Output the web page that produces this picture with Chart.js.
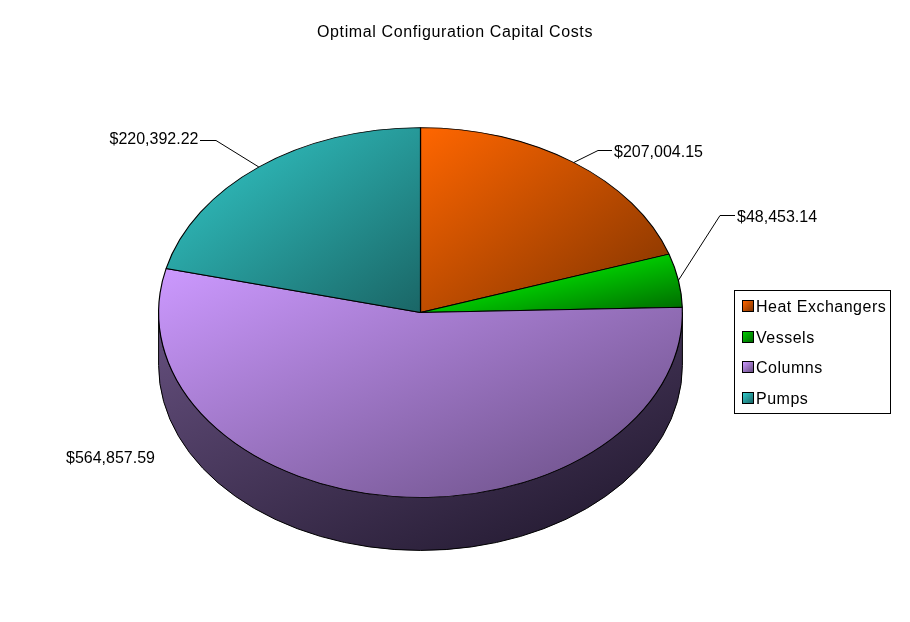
<!DOCTYPE html>
<html>
<head>
<meta charset="utf-8">
<title>Optimal Configuration Capital Costs</title>
<script src="https://cdn.jsdelivr.net/npm/chart.js@4/dist/chart.umd.js"></script>
<style>
  html, body { margin: 0; padding: 0; background: #fff; }
  canvas { display: block; }
</style>
</head>
<body>
<canvas id="costChart" width="910" height="622"></canvas>
<script>
const categories = ['Heat Exchangers', 'Vessels', 'Columns', 'Pumps'];
const costs = [207004.15, 48453.14, 564857.59, 220392.22];
const lightColors = ['#ff6600', '#00cc00', '#cc99ff', '#33cccc'];
const darkColors = ['#7f3300', '#006600', '#664c80', '#1a6666'];
const wallLight = ['#7f3300', '#006600', '#66507f', '#1a6666'];
const wallDark = ['#2a1100', '#002200', '#1c1428', '#082222'];
// where along the slice diagonal the colour starts to fade
const fadeStart = [0, 0.45, 0, 0];

// pie geometry: a flat circle squashed into an ellipse, plus an extruded wall
const PIE_BOX = { left: 158, top: 50, right: 683, bottom: 575 };
const SQUASH = 185 / 262;
const DEPTH = 53;
const FONT = '"Liberation Sans", Arial, sans-serif';

const labelSpots = [
    { knee: [598, 150], end: [612, 150], x: 614, y: 152.5, align: 'left', leader: true },
    { knee: [720, 215], end: [735, 215], x: 737, y: 217.5, align: 'left', leader: true },
    { x: 66, y: 458.5, align: 'left', leader: false },
    { knee: [216, 140], end: [200, 140], x: 198.5, y: 139.5, align: 'right', leader: true }
];
const legendBox = { left: 734.5, top: 290.5, right: 890.5, bottom: 413.5, rows: [306, 337, 367, 398] };

const money = v => '$' + v.toLocaleString('en-US', { minimumFractionDigits: 2, maximumFractionDigits: 2 });

// diagonal gradient with iso lines parallel to the anti-diagonal of the box
function diagonalGradient(ctx, box, from, to, start = 0) {
    const w = box.right - box.left;
    const h = box.bottom - box.top;
    const len = Math.hypot(w, h);
    const nx = h / len, ny = w / len;
    const run = (w * nx + h * ny);
    const g = ctx.createLinearGradient(box.left, box.top, box.left + nx * run, box.top + ny * run);
    g.addColorStop(start, from);
    g.addColorStop(1, to);
    return g;
}

function sliceBox(index, cx, cy, r) {
    const total = costs.reduce((a, b) => a + b, 0);
    let start = -Math.PI / 2;
    for (let i = 0; i < index; i++) start += costs[i] / total * Math.PI * 2;
    const end = start + costs[index] / total * Math.PI * 2;
    const xs = [cx, cx + r * Math.cos(start), cx + r * Math.cos(end)];
    const ys = [cy, cy + r * Math.sin(start), cy + r * Math.sin(end)];
    for (let q = -2; q <= 4; q++) {
        const a = q * Math.PI / 2;
        if (a > start && a < end) {
            xs.push(cx + r * Math.cos(a));
            ys.push(cy + r * Math.sin(a));
        }
    }
    return { left: Math.min(...xs), right: Math.max(...xs), top: Math.min(...ys), bottom: Math.max(...ys) };
}

const pie3d = {
    id: 'pie3d',
    beforeDraw(chart) {
        // wider tracking to match the bitmap font of the original
        chart.ctx.letterSpacing = '0.62px';
    },
    afterLayout(chart) {
        const a = chart.chartArea;
        a.left = PIE_BOX.left;
        a.top = PIE_BOX.top;
        a.right = PIE_BOX.right;
        a.bottom = PIE_BOX.bottom;
        a.width = a.right - a.left;
        a.height = a.bottom - a.top;
    },
    beforeDatasetsDraw(chart) {
        const ctx = chart.ctx;
        ctx.letterSpacing = '0px';
        const arcs = chart.getDatasetMeta(0).data;

        // wall: only the part of each slice facing the viewer
        arcs.forEach((arc, i) => {
            const r = arc.outerRadius, ry = r * SQUASH;
            const a0 = Math.max(arc.startAngle, 0);
            const a1 = Math.min(arc.endAngle, Math.PI);
            if (a1 <= a0) return;
            ctx.save();
            ctx.beginPath();
            ctx.ellipse(arc.x, arc.y, r, ry, 0, a0, a1);
            ctx.ellipse(arc.x, arc.y + DEPTH, r, ry, 0, a1, a0, true);
            ctx.closePath();
            const wallBox = { left: arc.x - r, right: arc.x + r, top: arc.y, bottom: arc.y + ry + DEPTH };
            ctx.fillStyle = diagonalGradient(ctx, wallBox, wallLight[i], wallDark[i]);
            ctx.fill();
            ctx.lineWidth = 1;
            ctx.strokeStyle = '#000';
            ctx.stroke();
            ctx.restore();
        });

        const cy = arcs[0].y;
        ctx.save();
        ctx.translate(0, cy);
        ctx.scale(1, SQUASH);
        ctx.translate(0, -cy);
    },
    afterDatasetsDraw(chart) {
        const ctx = chart.ctx;
        ctx.restore();

        const arcs = chart.getDatasetMeta(0).data;
        ctx.save();
        ctx.strokeStyle = '#000';
        ctx.lineWidth = 1;
        ctx.fillStyle = '#000';
        ctx.font = '16px ' + FONT;
        ctx.textBaseline = 'middle';
        labelSpots.forEach((spot, i) => {
            if (spot.leader) {
                const arc = arcs[i];
                const mid = (arc.startAngle + arc.endAngle) / 2;
                ctx.beginPath();
                ctx.moveTo(arc.x + arc.outerRadius * Math.cos(mid), arc.y + arc.outerRadius * SQUASH * Math.sin(mid));
                ctx.lineTo(spot.knee[0], spot.knee[1] + 0.5);
                ctx.lineTo(spot.end[0], spot.end[1] + 0.5);
                ctx.stroke();
            }
            ctx.textAlign = spot.align;
            ctx.fillText(money(costs[i]), spot.x, spot.y);
        });
        ctx.restore();
        drawLegend(ctx);
    }
};

function drawLegend(ctx) {
    const b = legendBox;
    ctx.save();
    ctx.strokeStyle = '#000';
    ctx.lineWidth = 1;
    ctx.strokeRect(b.left, b.top, b.right - b.left, b.bottom - b.top);
    ctx.font = '16px ' + FONT;
    ctx.letterSpacing = '0.5px';
    ctx.fillStyle = '#000';
    ctx.textBaseline = 'middle';
    ctx.textAlign = 'left';
    categories.forEach((name, i) => {
        const y = b.rows[i];
        const swatch = { left: 743, top: y - 5, right: 753, bottom: y + 5 };
        ctx.fillStyle = diagonalGradient(ctx, swatch, lightColors[i], darkColors[i]);
        ctx.fillRect(743, y - 5, 10, 10);
        ctx.strokeRect(742.5, y - 5.5, 11, 11);
        ctx.fillStyle = '#000';
        ctx.fillText(name, 756, y + 1.5);
    });
    ctx.restore();
}

new Chart(document.getElementById('costChart'), {
    type: 'pie',
    data: {
        labels: categories,
        datasets: [{
            data: costs,
            clip: false,
            borderColor: '#000',
            borderWidth: 1.2,
            backgroundColor: c => {
                const a = c.chart.chartArea;
                if (!a) return lightColors[c.dataIndex];
                const cx = (a.left + a.right) / 2, cy = (a.top + a.bottom) / 2;
                const box = sliceBox(c.dataIndex, cx, cy, a.width / 2);
                return diagonalGradient(c.chart.ctx, box, lightColors[c.dataIndex], darkColors[c.dataIndex], fadeStart[c.dataIndex]);
            }
        }]
    },
    options: {
        responsive: false,
        animation: false,
        events: [],
        plugins: {
            legend: { display: false },
            tooltip: { enabled: false },
            title: {
                display: true,
                text: 'Optimal Configuration Capital Costs',
                color: '#000',
                font: { family: FONT, size: 16, weight: 'normal', lineHeight: 1.25 },
                padding: { top: 22.5, bottom: 7.5 }
            }
        }
    },
    plugins: [pie3d]
});
</script>
</body>
</html>
